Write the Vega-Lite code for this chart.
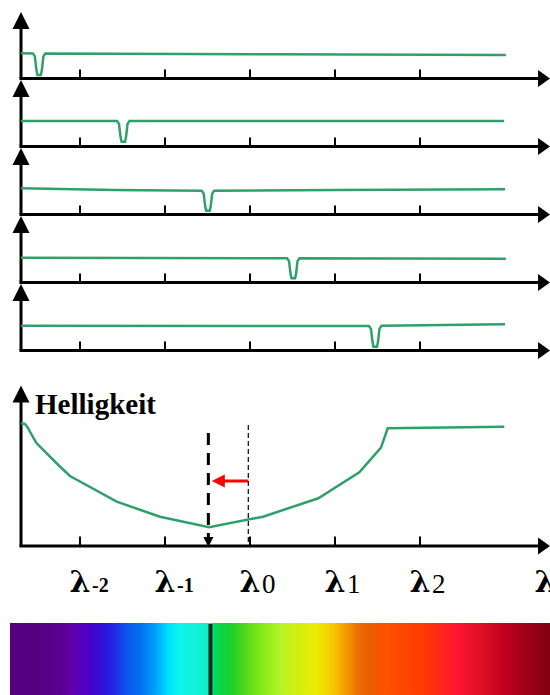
{
  "$schema": "https://vega.github.io/schema/vega-lite/v6.json",
  "padding": {"left": 10, "top": 0, "right": 0, "bottom": 0},
  "autosize": {"type": "pad"},
  "background": "white",
  "config": {"view": {"stroke": null}},
  "bounds": "flush",
  "spacing": 0,
  "datasets": {
    "ticks": [{"t": -2}, {"t": -1}, {"t": 0}, {"t": 1}, {"t": 2}],
    "labels": [
      {"t": -2, "sub": "-2", "neg": true},
      {"t": -1, "sub": "-1", "neg": true},
      {"t": 0, "sub": "0", "neg": false},
      {"t": 1, "sub": "1", "neg": false},
      {"t": 2, "sub": "2", "neg": false},
      {"t": 3.47, "sub": "", "neg": false}
    ],
    "spectra": [
      {"p": 1, "x": -2.694, "y": 26.7}, {"p": 1, "x": -2.554, "y": 26.6}, {"p": 1, "x": -2.531, "y": 23.6}, {"p": 1, "x": -2.513, "y": 10.2}, {"p": 1, "x": -2.501, "y": 5}, {"p": 1, "x": -2.46, "y": 5}, {"p": 1, "x": -2.448, "y": 10.2}, {"p": 1, "x": -2.431, "y": 23.6}, {"p": 1, "x": -2.407, "y": 26.5}, {"p": 1, "x": 0.3, "y": 25.8}, {"p": 1, "x": 3.01, "y": 25.0},
      {"p": 2, "x": -2.694, "y": 27}, {"p": 2, "x": -1.564, "y": 27}, {"p": 2, "x": -1.541, "y": 24.1}, {"p": 2, "x": -1.523, "y": 11.2}, {"p": 2, "x": -1.511, "y": 6.3}, {"p": 2, "x": -1.47, "y": 6.3}, {"p": 2, "x": -1.458, "y": 11.2}, {"p": 2, "x": -1.441, "y": 24.1}, {"p": 2, "x": -1.417, "y": 27}, {"p": 2, "x": 2.99, "y": 27},
      {"p": 3, "x": -2.694, "y": 27.7}, {"p": 3, "x": -1.6, "y": 26.0}, {"p": 3, "x": -0.568, "y": 25.3}, {"p": 3, "x": -0.545, "y": 22.4}, {"p": 3, "x": -0.527, "y": 9.7}, {"p": 3, "x": -0.515, "y": 5.3}, {"p": 3, "x": -0.474, "y": 5.3}, {"p": 3, "x": -0.462, "y": 9.7}, {"p": 3, "x": -0.445, "y": 22.4}, {"p": 3, "x": -0.421, "y": 25.3}, {"p": 3, "x": 1.0, "y": 26.0}, {"p": 3, "x": 3.0, "y": 26.7},
      {"p": 4, "x": -2.694, "y": 26.3}, {"p": 4, "x": 0.436, "y": 25.8}, {"p": 4, "x": 0.459, "y": 22.9}, {"p": 4, "x": 0.477, "y": 10.2}, {"p": 4, "x": 0.489, "y": 5.7}, {"p": 4, "x": 0.53, "y": 5.7}, {"p": 4, "x": 0.542, "y": 10.2}, {"p": 4, "x": 0.559, "y": 22.9}, {"p": 4, "x": 0.583, "y": 25.8}, {"p": 4, "x": 3.01, "y": 25.3},
      {"p": 5, "x": -2.694, "y": 26.3}, {"p": 5, "x": 0.5, "y": 26.0}, {"p": 5, "x": 1.4, "y": 26.0}, {"p": 5, "x": 1.423, "y": 23.1}, {"p": 5, "x": 1.441, "y": 10.2}, {"p": 5, "x": 1.453, "y": 5.3}, {"p": 5, "x": 1.494, "y": 5.3}, {"p": 5, "x": 1.506, "y": 10.2}, {"p": 5, "x": 1.523, "y": 23.1}, {"p": 5, "x": 1.547, "y": 26.2}, {"p": 5, "x": 3.0, "y": 27.7}
    ],
    "curve": [
      {"x": -2.694, "y": 122.7}, {"x": -2.647, "y": 122.0}, {"x": -2.612, "y": 118}, {"x": -2.568, "y": 111}, {"x": -2.51, "y": 102.7}, {"x": -2.255, "y": 81}, {"x": -2.118, "y": 70}, {"x": -1.568, "y": 44.3}, {"x": -1.059, "y": 29.3}, {"x": -0.482, "y": 18.7}, {"x": 0.153, "y": 29.3}, {"x": 0.804, "y": 47.7}, {"x": 1.286, "y": 73.7}, {"x": 1.541, "y": 98.3}, {"x": 1.62, "y": 117.7}, {"x": 2.992, "y": 119.3}
    ]
  },
  "vconcat": [
    {
      "width": 540, "height": 80,
      "layer": [
        {"data": {"name": "ticks"}, "mark": {"type": "rule", "color": "black", "strokeWidth": 2},
         "encoding": {"x": {"field": "t", "type": "quantitative", "scale": {"type": "linear", "domain": [-2.8235, 3.5294], "nice": false, "zero": false}, "axis": null},
                      "y": {"datum": 1.5, "type": "quantitative", "scale": {"domain": [0, 80], "nice": false, "zero": false}, "axis": null}, "y2": {"datum": 10.5}}},
        {"data": {"values": [{}]}, "mark": {"type": "rule", "color": "black", "strokeWidth": 3},
         "encoding": {"x": {"datum": -2.712, "type": "quantitative", "scale": {"type": "linear", "domain": [-2.8235, 3.5294], "nice": false, "zero": false}, "axis": null}, "x2": {"datum": 3.42},
                      "y": {"datum": 1.5, "type": "quantitative", "scale": {"domain": [0, 80], "nice": false, "zero": false}, "axis": null}}},
        {"data": {"values": [{}]}, "mark": {"type": "rule", "color": "black", "strokeWidth": 3},
         "encoding": {"x": {"datum": -2.694, "type": "quantitative", "scale": {"type": "linear", "domain": [-2.8235, 3.5294], "nice": false, "zero": false}, "axis": null},
                      "y": {"datum": 1.5, "type": "quantitative", "scale": {"domain": [0, 80], "nice": false, "zero": false}, "axis": null}, "y2": {"datum": 53}}},
        {"data": {"values": [{}]}, "mark": {"type": "point", "shape": "M0,-1L1,1L-1,1Z", "size": 289, "filled": true, "color": "black", "opacity": 1},
         "encoding": {"x": {"datum": -2.694, "type": "quantitative", "scale": {"type": "linear", "domain": [-2.8235, 3.5294], "nice": false, "zero": false}, "axis": null},
                      "y": {"datum": 59.5, "type": "quantitative", "scale": {"domain": [0, 80], "nice": false, "zero": false}, "axis": null}}},
        {"data": {"values": [{}]}, "mark": {"type": "point", "shape": "M0.7,0L-0.7,-1L-0.7,1Z", "size": 289, "filled": true, "color": "black", "opacity": 1},
         "encoding": {"x": {"datum": 3.459, "type": "quantitative", "scale": {"type": "linear", "domain": [-2.8235, 3.5294], "nice": false, "zero": false}, "axis": null},
                      "y": {"datum": 1.5, "type": "quantitative", "scale": {"domain": [0, 80], "nice": false, "zero": false}, "axis": null}}},
        {"data": {"name": "spectra"}, "transform": [{"filter": "datum.p == 1"}], "mark": {"type": "line", "color": "#30a06a", "strokeWidth": 2.5},
         "encoding": {"x": {"field": "x", "type": "quantitative", "scale": {"type": "linear", "domain": [-2.8235, 3.5294], "nice": false, "zero": false}, "axis": null},
                      "y": {"field": "y", "type": "quantitative", "scale": {"domain": [0, 80], "nice": false, "zero": false}, "axis": null}}}
      ]
    },
    {
      "width": 540, "height": 68,
      "layer": [
        {"data": {"name": "ticks"}, "mark": {"type": "rule", "color": "black", "strokeWidth": 2},
         "encoding": {"x": {"field": "t", "type": "quantitative", "scale": {"type": "linear", "domain": [-2.8235, 3.5294], "nice": false, "zero": false}, "axis": null},
                      "y": {"datum": 1.5, "type": "quantitative", "scale": {"domain": [0, 68], "nice": false, "zero": false}, "axis": null}, "y2": {"datum": 10.5}}},
        {"data": {"values": [{}]}, "mark": {"type": "rule", "color": "black", "strokeWidth": 3},
         "encoding": {"x": {"datum": -2.712, "type": "quantitative", "scale": {"type": "linear", "domain": [-2.8235, 3.5294], "nice": false, "zero": false}, "axis": null}, "x2": {"datum": 3.42},
                      "y": {"datum": 1.5, "type": "quantitative", "scale": {"domain": [0, 68], "nice": false, "zero": false}, "axis": null}}},
        {"data": {"values": [{}]}, "mark": {"type": "rule", "color": "black", "strokeWidth": 3},
         "encoding": {"x": {"datum": -2.694, "type": "quantitative", "scale": {"type": "linear", "domain": [-2.8235, 3.5294], "nice": false, "zero": false}, "axis": null},
                      "y": {"datum": 1.5, "type": "quantitative", "scale": {"domain": [0, 68], "nice": false, "zero": false}, "axis": null}, "y2": {"datum": 53}}},
        {"data": {"values": [{}]}, "mark": {"type": "point", "shape": "M0,-1L1,1L-1,1Z", "size": 289, "filled": true, "color": "black", "opacity": 1},
         "encoding": {"x": {"datum": -2.694, "type": "quantitative", "scale": {"type": "linear", "domain": [-2.8235, 3.5294], "nice": false, "zero": false}, "axis": null},
                      "y": {"datum": 59.5, "type": "quantitative", "scale": {"domain": [0, 68], "nice": false, "zero": false}, "axis": null}}},
        {"data": {"values": [{}]}, "mark": {"type": "point", "shape": "M0.7,0L-0.7,-1L-0.7,1Z", "size": 289, "filled": true, "color": "black", "opacity": 1},
         "encoding": {"x": {"datum": 3.459, "type": "quantitative", "scale": {"type": "linear", "domain": [-2.8235, 3.5294], "nice": false, "zero": false}, "axis": null},
                      "y": {"datum": 1.5, "type": "quantitative", "scale": {"domain": [0, 68], "nice": false, "zero": false}, "axis": null}}},
        {"data": {"name": "spectra"}, "transform": [{"filter": "datum.p == 2"}], "mark": {"type": "line", "color": "#30a06a", "strokeWidth": 2.5},
         "encoding": {"x": {"field": "x", "type": "quantitative", "scale": {"type": "linear", "domain": [-2.8235, 3.5294], "nice": false, "zero": false}, "axis": null},
                      "y": {"field": "y", "type": "quantitative", "scale": {"domain": [0, 68], "nice": false, "zero": false}, "axis": null}}}
      ]
    },
    {
      "width": 540, "height": 68,
      "layer": [
        {"data": {"name": "ticks"}, "mark": {"type": "rule", "color": "black", "strokeWidth": 2},
         "encoding": {"x": {"field": "t", "type": "quantitative", "scale": {"type": "linear", "domain": [-2.8235, 3.5294], "nice": false, "zero": false}, "axis": null},
                      "y": {"datum": 1.5, "type": "quantitative", "scale": {"domain": [0, 68], "nice": false, "zero": false}, "axis": null}, "y2": {"datum": 10.5}}},
        {"data": {"values": [{}]}, "mark": {"type": "rule", "color": "black", "strokeWidth": 3},
         "encoding": {"x": {"datum": -2.712, "type": "quantitative", "scale": {"type": "linear", "domain": [-2.8235, 3.5294], "nice": false, "zero": false}, "axis": null}, "x2": {"datum": 3.42},
                      "y": {"datum": 1.5, "type": "quantitative", "scale": {"domain": [0, 68], "nice": false, "zero": false}, "axis": null}}},
        {"data": {"values": [{}]}, "mark": {"type": "rule", "color": "black", "strokeWidth": 3},
         "encoding": {"x": {"datum": -2.694, "type": "quantitative", "scale": {"type": "linear", "domain": [-2.8235, 3.5294], "nice": false, "zero": false}, "axis": null},
                      "y": {"datum": 1.5, "type": "quantitative", "scale": {"domain": [0, 68], "nice": false, "zero": false}, "axis": null}, "y2": {"datum": 53}}},
        {"data": {"values": [{}]}, "mark": {"type": "point", "shape": "M0,-1L1,1L-1,1Z", "size": 289, "filled": true, "color": "black", "opacity": 1},
         "encoding": {"x": {"datum": -2.694, "type": "quantitative", "scale": {"type": "linear", "domain": [-2.8235, 3.5294], "nice": false, "zero": false}, "axis": null},
                      "y": {"datum": 59.5, "type": "quantitative", "scale": {"domain": [0, 68], "nice": false, "zero": false}, "axis": null}}},
        {"data": {"values": [{}]}, "mark": {"type": "point", "shape": "M0.7,0L-0.7,-1L-0.7,1Z", "size": 289, "filled": true, "color": "black", "opacity": 1},
         "encoding": {"x": {"datum": 3.459, "type": "quantitative", "scale": {"type": "linear", "domain": [-2.8235, 3.5294], "nice": false, "zero": false}, "axis": null},
                      "y": {"datum": 1.5, "type": "quantitative", "scale": {"domain": [0, 68], "nice": false, "zero": false}, "axis": null}}},
        {"data": {"name": "spectra"}, "transform": [{"filter": "datum.p == 3"}], "mark": {"type": "line", "color": "#30a06a", "strokeWidth": 2.5},
         "encoding": {"x": {"field": "x", "type": "quantitative", "scale": {"type": "linear", "domain": [-2.8235, 3.5294], "nice": false, "zero": false}, "axis": null},
                      "y": {"field": "y", "type": "quantitative", "scale": {"domain": [0, 68], "nice": false, "zero": false}, "axis": null}}}
      ]
    },
    {
      "width": 540, "height": 68,
      "layer": [
        {"data": {"name": "ticks"}, "mark": {"type": "rule", "color": "black", "strokeWidth": 2},
         "encoding": {"x": {"field": "t", "type": "quantitative", "scale": {"type": "linear", "domain": [-2.8235, 3.5294], "nice": false, "zero": false}, "axis": null},
                      "y": {"datum": 1.5, "type": "quantitative", "scale": {"domain": [0, 68], "nice": false, "zero": false}, "axis": null}, "y2": {"datum": 10.5}}},
        {"data": {"values": [{}]}, "mark": {"type": "rule", "color": "black", "strokeWidth": 3},
         "encoding": {"x": {"datum": -2.712, "type": "quantitative", "scale": {"type": "linear", "domain": [-2.8235, 3.5294], "nice": false, "zero": false}, "axis": null}, "x2": {"datum": 3.42},
                      "y": {"datum": 1.5, "type": "quantitative", "scale": {"domain": [0, 68], "nice": false, "zero": false}, "axis": null}}},
        {"data": {"values": [{}]}, "mark": {"type": "rule", "color": "black", "strokeWidth": 3},
         "encoding": {"x": {"datum": -2.694, "type": "quantitative", "scale": {"type": "linear", "domain": [-2.8235, 3.5294], "nice": false, "zero": false}, "axis": null},
                      "y": {"datum": 1.5, "type": "quantitative", "scale": {"domain": [0, 68], "nice": false, "zero": false}, "axis": null}, "y2": {"datum": 53}}},
        {"data": {"values": [{}]}, "mark": {"type": "point", "shape": "M0,-1L1,1L-1,1Z", "size": 289, "filled": true, "color": "black", "opacity": 1},
         "encoding": {"x": {"datum": -2.694, "type": "quantitative", "scale": {"type": "linear", "domain": [-2.8235, 3.5294], "nice": false, "zero": false}, "axis": null},
                      "y": {"datum": 59.5, "type": "quantitative", "scale": {"domain": [0, 68], "nice": false, "zero": false}, "axis": null}}},
        {"data": {"values": [{}]}, "mark": {"type": "point", "shape": "M0.7,0L-0.7,-1L-0.7,1Z", "size": 289, "filled": true, "color": "black", "opacity": 1},
         "encoding": {"x": {"datum": 3.459, "type": "quantitative", "scale": {"type": "linear", "domain": [-2.8235, 3.5294], "nice": false, "zero": false}, "axis": null},
                      "y": {"datum": 1.5, "type": "quantitative", "scale": {"domain": [0, 68], "nice": false, "zero": false}, "axis": null}}},
        {"data": {"name": "spectra"}, "transform": [{"filter": "datum.p == 4"}], "mark": {"type": "line", "color": "#30a06a", "strokeWidth": 2.5},
         "encoding": {"x": {"field": "x", "type": "quantitative", "scale": {"type": "linear", "domain": [-2.8235, 3.5294], "nice": false, "zero": false}, "axis": null},
                      "y": {"field": "y", "type": "quantitative", "scale": {"domain": [0, 68], "nice": false, "zero": false}, "axis": null}}}
      ]
    },
    {
      "width": 540, "height": 68,
      "layer": [
        {"data": {"name": "ticks"}, "mark": {"type": "rule", "color": "black", "strokeWidth": 2},
         "encoding": {"x": {"field": "t", "type": "quantitative", "scale": {"type": "linear", "domain": [-2.8235, 3.5294], "nice": false, "zero": false}, "axis": null},
                      "y": {"datum": 1.5, "type": "quantitative", "scale": {"domain": [0, 68], "nice": false, "zero": false}, "axis": null}, "y2": {"datum": 10.5}}},
        {"data": {"values": [{}]}, "mark": {"type": "rule", "color": "black", "strokeWidth": 3},
         "encoding": {"x": {"datum": -2.712, "type": "quantitative", "scale": {"type": "linear", "domain": [-2.8235, 3.5294], "nice": false, "zero": false}, "axis": null}, "x2": {"datum": 3.42},
                      "y": {"datum": 1.5, "type": "quantitative", "scale": {"domain": [0, 68], "nice": false, "zero": false}, "axis": null}}},
        {"data": {"values": [{}]}, "mark": {"type": "rule", "color": "black", "strokeWidth": 3},
         "encoding": {"x": {"datum": -2.694, "type": "quantitative", "scale": {"type": "linear", "domain": [-2.8235, 3.5294], "nice": false, "zero": false}, "axis": null},
                      "y": {"datum": 1.5, "type": "quantitative", "scale": {"domain": [0, 68], "nice": false, "zero": false}, "axis": null}, "y2": {"datum": 53}}},
        {"data": {"values": [{}]}, "mark": {"type": "point", "shape": "M0,-1L1,1L-1,1Z", "size": 289, "filled": true, "color": "black", "opacity": 1},
         "encoding": {"x": {"datum": -2.694, "type": "quantitative", "scale": {"type": "linear", "domain": [-2.8235, 3.5294], "nice": false, "zero": false}, "axis": null},
                      "y": {"datum": 59.5, "type": "quantitative", "scale": {"domain": [0, 68], "nice": false, "zero": false}, "axis": null}}},
        {"data": {"values": [{}]}, "mark": {"type": "point", "shape": "M0.7,0L-0.7,-1L-0.7,1Z", "size": 289, "filled": true, "color": "black", "opacity": 1},
         "encoding": {"x": {"datum": 3.459, "type": "quantitative", "scale": {"type": "linear", "domain": [-2.8235, 3.5294], "nice": false, "zero": false}, "axis": null},
                      "y": {"datum": 1.5, "type": "quantitative", "scale": {"domain": [0, 68], "nice": false, "zero": false}, "axis": null}}},
        {"data": {"name": "spectra"}, "transform": [{"filter": "datum.p == 5"}], "mark": {"type": "line", "color": "#30a06a", "strokeWidth": 2.5},
         "encoding": {"x": {"field": "x", "type": "quantitative", "scale": {"type": "linear", "domain": [-2.8235, 3.5294], "nice": false, "zero": false}, "axis": null},
                      "y": {"field": "y", "type": "quantitative", "scale": {"domain": [0, 68], "nice": false, "zero": false}, "axis": null}}}
      ]
    },
    {
      "width": 540, "height": 271,
      "layer": [
        {"data": {"name": "ticks"}, "mark": {"type": "rule", "color": "black", "strokeWidth": 2},
         "encoding": {"x": {"field": "t", "type": "quantitative", "scale": {"type": "linear", "domain": [-2.8235, 3.5294], "nice": false, "zero": false}, "axis": null},
                      "y": {"datum": 0, "type": "quantitative", "scale": {"domain": [-77, 194], "nice": false, "zero": false}, "axis": null}, "y2": {"datum": 9.5}}},
        {"data": {"values": [{}]}, "mark": {"type": "rule", "color": "black", "strokeWidth": 3},
         "encoding": {"x": {"datum": -2.712, "type": "quantitative", "scale": {"type": "linear", "domain": [-2.8235, 3.5294], "nice": false, "zero": false}, "axis": null}, "x2": {"datum": 3.42},
                      "y": {"datum": 0, "type": "quantitative", "scale": {"domain": [-77, 194], "nice": false, "zero": false}, "axis": null}}},
        {"data": {"values": [{}]}, "mark": {"type": "rule", "color": "black", "strokeWidth": 3},
         "encoding": {"x": {"datum": -2.694, "type": "quantitative", "scale": {"type": "linear", "domain": [-2.8235, 3.5294], "nice": false, "zero": false}, "axis": null},
                      "y": {"datum": 0, "type": "quantitative", "scale": {"domain": [-77, 194], "nice": false, "zero": false}, "axis": null}, "y2": {"datum": 145}}},
        {"data": {"values": [{}]}, "mark": {"type": "point", "shape": "M0,-1L1,1L-1,1Z", "size": 289, "filled": true, "color": "black", "opacity": 1},
         "encoding": {"x": {"datum": -2.694, "type": "quantitative", "scale": {"type": "linear", "domain": [-2.8235, 3.5294], "nice": false, "zero": false}, "axis": null},
                      "y": {"datum": 152, "type": "quantitative", "scale": {"domain": [-77, 194], "nice": false, "zero": false}, "axis": null}}},
        {"data": {"values": [{}]}, "mark": {"type": "point", "shape": "M0.7,0L-0.7,-1L-0.7,1Z", "size": 289, "filled": true, "color": "black", "opacity": 1},
         "encoding": {"x": {"datum": 3.459, "type": "quantitative", "scale": {"type": "linear", "domain": [-2.8235, 3.5294], "nice": false, "zero": false}, "axis": null},
                      "y": {"datum": 0, "type": "quantitative", "scale": {"domain": [-77, 194], "nice": false, "zero": false}, "axis": null}}},
        {"data": {"name": "curve"}, "mark": {"type": "line", "color": "#30a06a", "strokeWidth": 2.5},
         "encoding": {"x": {"field": "x", "type": "quantitative", "scale": {"type": "linear", "domain": [-2.8235, 3.5294], "nice": false, "zero": false}, "axis": null},
                      "y": {"field": "y", "type": "quantitative", "scale": {"domain": [-77, 194], "nice": false, "zero": false}, "axis": null}}},
        {"data": {"values": [{}]}, "mark": {"type": "rule", "color": "black", "strokeWidth": 1.2, "strokeDash": [5, 3]},
         "encoding": {"x": {"datum": -0.02, "type": "quantitative", "scale": {"type": "linear", "domain": [-2.8235, 3.5294], "nice": false, "zero": false}, "axis": null},
                      "y": {"datum": 121, "type": "quantitative", "scale": {"domain": [-77, 194], "nice": false, "zero": false}, "axis": null}, "y2": {"datum": 0}}},
        {"data": {"values": [{}]}, "mark": {"type": "rule", "color": "black", "strokeWidth": 3, "strokeDash": [12, 8]},
         "encoding": {"x": {"datum": -0.49, "type": "quantitative", "scale": {"type": "linear", "domain": [-2.8235, 3.5294], "nice": false, "zero": false}, "axis": null},
                      "y": {"datum": 113, "type": "quantitative", "scale": {"domain": [-77, 194], "nice": false, "zero": false}, "axis": null}, "y2": {"datum": 9}}},
        {"data": {"values": [{}]}, "mark": {"type": "point", "shape": "M-1,-1L1,-1L0,1Z", "size": 100, "filled": true, "color": "black", "opacity": 1},
         "encoding": {"x": {"datum": -0.49, "type": "quantitative", "scale": {"type": "linear", "domain": [-2.8235, 3.5294], "nice": false, "zero": false}, "axis": null},
                      "y": {"datum": 4, "type": "quantitative", "scale": {"domain": [-77, 194], "nice": false, "zero": false}, "axis": null}}},
        {"data": {"values": [{}]}, "mark": {"type": "rule", "color": "#ff0000", "strokeWidth": 3},
         "encoding": {"x": {"datum": -0.33, "type": "quantitative", "scale": {"type": "linear", "domain": [-2.8235, 3.5294], "nice": false, "zero": false}, "axis": null}, "x2": {"datum": -0.02},
                      "y": {"datum": 65, "type": "quantitative", "scale": {"domain": [-77, 194], "nice": false, "zero": false}, "axis": null}}},
        {"data": {"values": [{}]}, "mark": {"type": "point", "shape": "M-1,0L1,-1L1,1Z", "size": 169, "filled": true, "color": "#ff0000", "opacity": 1},
         "encoding": {"x": {"datum": -0.373, "type": "quantitative", "scale": {"type": "linear", "domain": [-2.8235, 3.5294], "nice": false, "zero": false}, "axis": null},
                      "y": {"datum": 65, "type": "quantitative", "scale": {"domain": [-77, 194], "nice": false, "zero": false}, "axis": null}}},
        {"data": {"values": [{}]}, "mark": {"type": "text", "font": "Liberation Serif", "fontWeight": "bold", "fontSize": 29, "align": "left", "baseline": "alphabetic", "color": "black"},
         "encoding": {"x": {"datum": -2.529, "type": "quantitative", "scale": {"type": "linear", "domain": [-2.8235, 3.5294], "nice": false, "zero": false}, "axis": null},
                      "y": {"datum": 131.7, "type": "quantitative", "scale": {"domain": [-77, 194], "nice": false, "zero": false}, "axis": null},
                      "text": {"value": "Helligkeit"}}},
        {"data": {"name": "labels"}, "mark": {"type": "text", "font": "DejaVu Serif", "fontWeight": "bold", "fontSize": 30, "align": "center", "baseline": "alphabetic", "color": "black", "dx": 0, "clip": true},
         "encoding": {"x": {"field": "t", "type": "quantitative", "scale": {"type": "linear", "domain": [-2.8235, 3.5294], "nice": false, "zero": false}, "axis": null},
                      "y": {"datum": -45.7, "type": "quantitative", "scale": {"domain": [-77, 194], "nice": false, "zero": false}, "axis": null},
                      "text": {"value": "λ"}}},
        {"data": {"name": "labels"}, "transform": [{"filter": "datum.neg"}], "mark": {"type": "text", "font": "Liberation Serif", "fontWeight": "bold", "fontSize": 20, "align": "left", "baseline": "alphabetic", "color": "black", "dx": 12},
         "encoding": {"x": {"field": "t", "type": "quantitative", "scale": {"type": "linear", "domain": [-2.8235, 3.5294], "nice": false, "zero": false}, "axis": null},
                      "y": {"datum": -45.7, "type": "quantitative", "scale": {"domain": [-77, 194], "nice": false, "zero": false}, "axis": null},
                      "text": {"field": "sub"}}},
        {"data": {"name": "labels"}, "transform": [{"filter": "!datum.neg"}], "mark": {"type": "text", "font": "Liberation Serif", "fontWeight": "normal", "fontSize": 27, "align": "left", "baseline": "alphabetic", "color": "black", "dx": 12, "clip": true},
         "encoding": {"x": {"field": "t", "type": "quantitative", "scale": {"type": "linear", "domain": [-2.8235, 3.5294], "nice": false, "zero": false}, "axis": null},
                      "y": {"datum": -46.5, "type": "quantitative", "scale": {"domain": [-77, 194], "nice": false, "zero": false}, "axis": null},
                      "text": {"field": "sub"}}}
      ]
    },
    {
      "width": 540, "height": 72,
      "layer": [
        {"data": {"values": [{}]},
         "mark": {"type": "rect", "stroke": null, "fill": {"gradient": "linear", "x1": 0, "y1": 0, "x2": 1, "y2": 0, "stops": [
           {"offset": 0, "color": "#550080"}, {"offset": 0.046, "color": "#560082"}, {"offset": 0.093, "color": "#5a0090"}, {"offset": 0.119, "color": "#6000b0"},
           {"offset": 0.148, "color": "#4a00c8"}, {"offset": 0.17, "color": "#3010d8"}, {"offset": 0.189, "color": "#2222e2"}, {"offset": 0.213, "color": "#1050ec"},
           {"offset": 0.241, "color": "#0070f0"}, {"offset": 0.269, "color": "#00a0f8"}, {"offset": 0.293, "color": "#00e0ff"}, {"offset": 0.315, "color": "#10f4ec"},
           {"offset": 0.372, "color": "#10eec0"}, {"offset": 0.378, "color": "#00d860"}, {"offset": 0.407, "color": "#18d030"}, {"offset": 0.435, "color": "#50d818"},
           {"offset": 0.463, "color": "#80e818"}, {"offset": 0.502, "color": "#b8f428"}, {"offset": 0.533, "color": "#d0f010"}, {"offset": 0.567, "color": "#ecea00"},
           {"offset": 0.598, "color": "#f8c800"}, {"offset": 0.62, "color": "#f4a000"}, {"offset": 0.644, "color": "#ec7000"}, {"offset": 0.663, "color": "#e86000"},
           {"offset": 0.696, "color": "#ff5000"}, {"offset": 0.761, "color": "#ff3c00"}, {"offset": 0.796, "color": "#ff2818"}, {"offset": 0.826, "color": "#ff1530"},
           {"offset": 0.87, "color": "#e01025"}, {"offset": 0.917, "color": "#c00020"}, {"offset": 0.956, "color": "#a00018"}, {"offset": 1, "color": "#800010"}]}},
         "encoding": {"x": {"datum": -2.8235, "type": "quantitative", "scale": {"type": "linear", "domain": [-2.8235, 3.5294], "nice": false, "zero": false}, "axis": null}, "x2": {"datum": 3.5294},
                      "y": {"datum": 0, "type": "quantitative", "scale": {"domain": [0, 72], "nice": false, "zero": false}, "axis": null}, "y2": {"datum": 72}}},
        {"data": {"values": [{}]}, "mark": {"type": "rule", "color": "#0c2a14", "strokeWidth": 4},
         "encoding": {"x": {"datum": -0.4647, "type": "quantitative", "scale": {"type": "linear", "domain": [-2.8235, 3.5294], "nice": false, "zero": false}, "axis": null},
                      "y": {"datum": 0, "type": "quantitative", "scale": {"domain": [0, 72], "nice": false, "zero": false}, "axis": null}, "y2": {"datum": 71}}}
      ]
    }
  ]
}
